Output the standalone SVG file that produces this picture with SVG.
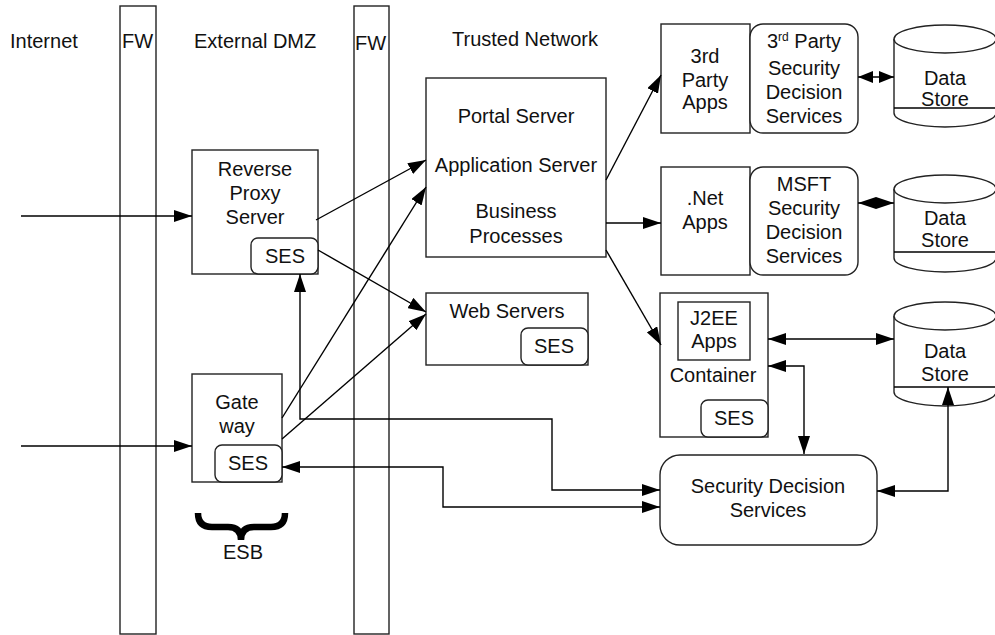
<svg xmlns="http://www.w3.org/2000/svg" width="995" height="635" viewBox="0 0 995 635">
  <style>
    text { font-family: "Liberation Sans", Arial, sans-serif; font-size: 20px; fill: #111; }
    .c { text-anchor: middle; }
    .box { fill: #fff; stroke: #222; stroke-width: 1.4; }
    .fw { fill: #fff; stroke: #222; stroke-width: 1.4; }
    .ln { fill: none; stroke: #000; stroke-width: 1.4; }
    .arr { marker-end: url(#ah); }
    .arr2 { marker-start: url(#ah); marker-end: url(#ah); }
    .brace { fill: none; stroke: #000; stroke-width: 6.5; stroke-linejoin: miter; }
  </style>
  <defs>
    <marker id="ah" markerUnits="userSpaceOnUse" markerWidth="18" markerHeight="12" refX="18" refY="6" orient="auto-start-reverse" viewBox="0 0 18 12">
      <path d="M0,0 L18,6 L0,12 z" fill="#000"/>
    </marker>
    <marker id="ahs" markerUnits="userSpaceOnUse" markerWidth="15" markerHeight="12" refX="15" refY="6" orient="auto-start-reverse" viewBox="0 0 15 12">
      <path d="M0,0 L15,6 L0,12 z" fill="#000"/>
    </marker>
  </defs>
  <rect width="995" height="635" fill="#fff"/>

  <!-- firewalls -->
  <g id="fw1"><rect class="fw" x="120" y="6" width="36" height="628"/><text x="122" y="48">FW</text></g>
  <g id="fw2"><rect class="fw" x="354" y="6" width="35" height="628"/><text x="355" y="50">FW</text></g>

  <!-- zone headings -->
  <g id="zones">
    <text x="10" y="48">Internet</text>
    <text x="194" y="48">External DMZ</text>
    <text x="452" y="46">Trusted Network</text>
  </g>

  <!-- DMZ nodes -->
  <g id="reverse-proxy">
    <rect class="box" x="192" y="150" width="126" height="124"/>
    <text class="c" x="255" y="176">Reverse</text>
    <text class="c" x="255" y="200">Proxy</text>
    <text class="c" x="255" y="224">Server</text>
    <rect class="box" x="251" y="238" width="67" height="36" rx="7"/>
    <text class="c" x="285" y="263">SES</text>
  </g>
  <g id="gateway">
    <rect class="box" x="192" y="374" width="90" height="108"/>
    <text class="c" x="237" y="409">Gate</text>
    <text class="c" x="237" y="433">way</text>
    <rect class="box" x="215" y="445" width="67" height="37" rx="7"/>
    <text class="c" x="248" y="470">SES</text>
  </g>
  <g id="esb">
    <path class="brace" d="M198,513 Q198,527 212,527 L228,527 Q241,527 241,540 Q241,527 254,527 L271,527 Q285,527 285,513"/>
    <text class="c" x="243" y="559">ESB</text>
  </g>

  <!-- trusted network nodes -->
  <g id="portal">
    <rect class="box" x="426" y="78" width="180" height="179"/>
    <text class="c" x="516" y="123">Portal Server</text>
    <text class="c" x="516" y="172">Application Server</text>
    <text class="c" x="516" y="218">Business</text>
    <text class="c" x="516" y="243">Processes</text>
  </g>
  <g id="web-servers">
    <rect class="box" x="426" y="293" width="162" height="72"/>
    <text class="c" x="507" y="318">Web Servers</text>
    <rect class="box" x="521" y="328" width="67" height="37" rx="7"/>
    <text class="c" x="554" y="353">SES</text>
  </g>

  <g id="third-party-apps">
    <rect class="box" x="661" y="24" width="89" height="109"/>
    <text class="c" x="705" y="63">3rd</text>
    <text class="c" x="705" y="87">Party</text>
    <text class="c" x="705" y="109">Apps</text>
  </g>
  <g id="third-party-sds">
    <rect class="box" x="750" y="24" width="108" height="109" rx="13"/>
    <text class="c" x="804" y="48">3<tspan font-size="12" dy="-7">rd</tspan><tspan dy="7"> Party</tspan></text>
    <text class="c" x="804" y="75">Security</text>
    <text class="c" x="804" y="99">Decision</text>
    <text class="c" x="804" y="123">Services</text>
  </g>
  <g id="datastore-1">
    <path class="box" d="M894,39 L894,113 A51,14 0 0 0 996,113 L996,39"/>
    <ellipse class="box" cx="945" cy="39" rx="51" ry="14"/>
    <line class="ln" x1="894" y1="108" x2="996" y2="108" stroke="#222"/>
    <text class="c" x="945" y="85">Data</text>
    <text class="c" x="945" y="106">Store</text>
  </g>

  <g id="net-apps">
    <rect class="box" x="661" y="167" width="89" height="108"/>
    <text class="c" x="705" y="205">.Net</text>
    <text class="c" x="705" y="229">Apps</text>
  </g>
  <g id="msft-sds">
    <rect class="box" x="750" y="167" width="108" height="108" rx="13"/>
    <text class="c" x="804" y="191">MSFT</text>
    <text class="c" x="804" y="215">Security</text>
    <text class="c" x="804" y="239">Decision</text>
    <text class="c" x="804" y="263">Services</text>
  </g>
  <g id="datastore-2">
    <path class="box" d="M894,189 L894,258 A51,14 0 0 0 996,258 L996,189"/>
    <ellipse class="box" cx="945" cy="189" rx="51" ry="14"/>
    <line class="ln" x1="894" y1="252" x2="996" y2="252" stroke="#222"/>
    <text class="c" x="945" y="225">Data</text>
    <text class="c" x="945" y="247">Store</text>
  </g>

  <g id="container">
    <rect class="box" x="660" y="293" width="108" height="144"/>
    <rect class="box" x="678" y="302" width="72" height="58"/>
    <text class="c" x="714" y="325">J2EE</text>
    <text class="c" x="714" y="348">Apps</text>
    <text class="c" x="713" y="382">Container</text>
    <rect class="box" x="701" y="400" width="67" height="37" rx="7"/>
    <text class="c" x="734" y="425">SES</text>
  </g>
  <g id="datastore-3">
    <path class="box" d="M894,316 L894,392 A51,14 0 0 0 996,392 L996,316"/>
    <ellipse class="box" cx="945" cy="316" rx="51" ry="14"/>
    <line class="ln" x1="894" y1="387" x2="996" y2="387" stroke="#222"/>
    <text class="c" x="945" y="358">Data</text>
    <text class="c" x="945" y="381">Store</text>
  </g>

  <g id="security-decision-services">
    <rect class="box" x="660" y="455" width="217" height="90" rx="20"/>
    <text class="c" x="768" y="493">Security Decision</text>
    <text class="c" x="768" y="517">Services</text>
  </g>

  <!-- connectors, drawn over the boxes they end on -->
  <g id="connectors">
    <line class="ln arr" x1="21" y1="216" x2="192" y2="216"/>
    <line class="ln arr" x1="21" y1="446" x2="192" y2="446"/>
    <line class="ln arr" x1="316" y1="220" x2="426" y2="160"/>
    <line class="ln arr" x1="318" y1="250" x2="426" y2="312"/>
    <line class="ln arr" x1="282" y1="418" x2="426" y2="187"/>
    <line class="ln arr" x1="282" y1="439" x2="426" y2="314"/>
    <line class="ln arr" x1="606" y1="180" x2="661" y2="75"/>
    <line class="ln arr" x1="606" y1="223" x2="661" y2="223"/>
    <line class="ln arr" x1="606" y1="250" x2="661" y2="345"/>
    <line class="ln" x1="858" y1="77" x2="894" y2="77" marker-start="url(#ahs)" marker-end="url(#ahs)"/>
    <line class="ln arr2" x1="858" y1="203" x2="894" y2="203"/>
    <line class="ln arr2" x1="768" y1="339" x2="894" y2="339"/>
    <polyline class="ln arr2" points="768,366 804,366 804,454"/>
    <polyline class="ln arr2" points="877,491 948,491 948,387"/>
    <polyline class="ln arr2" points="300,274 300,419 552,419 552,490 660,490"/>
    <polyline class="ln arr2" points="282,467 443,467 443,507 660,507"/>
  </g>
</svg>
